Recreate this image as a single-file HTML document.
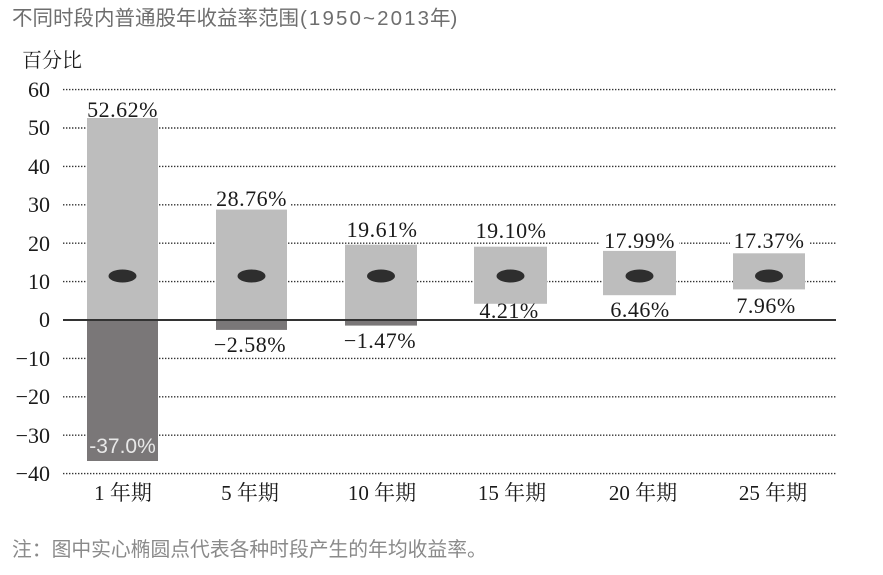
<!DOCTYPE html>
<html>
<head>
<meta charset="utf-8">
<style>
html,body{margin:0;padding:0;background:#fff;}
svg{display:block;}
.serif{font-family:"Liberation Serif","Noto Serif CJK SC","Noto Serif CJK JP","IPAMincho",serif;}
.sans{font-family:"Liberation Sans","Noto Sans CJK SC",sans-serif;}
</style>
</head>
<body>
<svg width="883" height="575" viewBox="0 0 883 575" xmlns="http://www.w3.org/2000/svg">
<rect width="883" height="575" fill="#fff"/>

<!-- Title -->
<g class="sans" fill="#6e6e6e" font-size="20.5">
<text x="12" y="25">不同时段内普通股年收益率范围</text>
<text x="300" y="25" textLength="129" lengthAdjust="spacing">(1950~2013</text>
<text x="430" y="25">年)</text>
</g>

<!-- Y axis title -->
<text class="serif" x="22" y="67" font-size="20" fill="#1a1a1a">百分比</text>

<!-- Gridlines -->
<g stroke="#333" stroke-width="1.4" stroke-dasharray="1.4 1.6" fill="none">
<line x1="63" y1="89.6" x2="836" y2="89.6"/>
<line x1="63" y1="128" x2="836" y2="128"/>
<line x1="63" y1="166.4" x2="836" y2="166.4"/>
<line x1="63" y1="204.8" x2="836" y2="204.8"/>
<line x1="63" y1="243.2" x2="836" y2="243.2"/>
<line x1="63" y1="281.6" x2="836" y2="281.6"/>
<line x1="63" y1="358.4" x2="836" y2="358.4"/>
<line x1="63" y1="396.8" x2="836" y2="396.8"/>
<line x1="63" y1="435.2" x2="836" y2="435.2"/>
<line x1="63" y1="473.6" x2="836" y2="473.6"/>
</g>

<!-- Y tick labels -->
<g class="serif" font-size="22" fill="#1a1a1a" text-anchor="end">
<text x="50" y="97">60</text>
<text x="50" y="135">50</text>
<text x="50" y="174">40</text>
<text x="50" y="212">30</text>
<text x="50" y="251">20</text>
<text x="50" y="289">10</text>
<text x="50" y="327">0</text>
<text x="50" y="366">−10</text>
<text x="50" y="404">−20</text>
<text x="50" y="443">−30</text>
<text x="50" y="481">−40</text>
</g>

<!-- Bars positive part -->
<g fill="#bdbdbd">
<rect x="87" y="118" width="71" height="202"/>
<rect x="216" y="209.6" width="71" height="110.4"/>
<rect x="345" y="244.7" width="72" height="75.3"/>
<rect x="474" y="246.7" width="73" height="57.1"/>
<rect x="603" y="250.9" width="73" height="44.3"/>
<rect x="733" y="253.3" width="72" height="36.1"/>
</g>
<!-- Bars negative part -->
<g fill="#7a7778">
<rect x="87" y="320" width="71" height="141"/>
<rect x="216" y="320" width="71" height="9.9"/>
<rect x="345" y="320" width="72" height="5.6"/>
</g>

<!-- Zero line -->
<line x1="63" y1="320" x2="836" y2="320" stroke="#333" stroke-width="2"/>

<!-- Mean ellipses -->
<g fill="#2e2e2e">
<ellipse cx="122.5" cy="276" rx="14" ry="6.5"/>
<ellipse cx="251.5" cy="276" rx="14" ry="6.5"/>
<ellipse cx="381" cy="276" rx="14" ry="6.5"/>
<ellipse cx="510.5" cy="276" rx="14" ry="6.5"/>
<ellipse cx="639.5" cy="276" rx="14" ry="6.5"/>
<ellipse cx="769" cy="276" rx="14" ry="6.5"/>
</g>

<!-- White backgrounds behind labels sitting on gridlines -->
<g fill="#fff">
<rect x="213" y="192" width="78" height="16"/>
<rect x="600" y="234" width="79" height="16"/>
<rect x="730" y="234" width="79" height="16"/>
</g>

<!-- Value labels -->
<g class="serif" font-size="22" fill="#1a1a1a" text-anchor="middle" letter-spacing="0.5">
<text x="122.5" y="117">52.62%</text>
<text x="251.5" y="206">28.76%</text>
<text x="382" y="237">19.61%</text>
<text x="511" y="238">19.10%</text>
<text x="639.5" y="248">17.99%</text>
<text x="769" y="248">17.37%</text>
<text x="509" y="318">4.21%</text>
<text x="640" y="317">6.46%</text>
<text x="766" y="313">7.96%</text>
<text x="250" y="352">−2.58%</text>
<text x="380" y="348">−1.47%</text>
</g>
<text class="sans" x="122.5" y="453" font-size="21" fill="#e8e8e8" text-anchor="middle">-37.0%</text>

<!-- X labels -->
<g class="serif" font-size="21" fill="#1a1a1a" text-anchor="middle">
<text x="123" y="500">1 年期</text>
<text x="250" y="500">5 年期</text>
<text x="382" y="500">10 年期</text>
<text x="512" y="500">15 年期</text>
<text x="643" y="500">20 年期</text>
<text x="773" y="500">25 年期</text>
</g>

<!-- Footnote -->
<text class="sans" x="12" y="556" font-size="19.8" fill="#8a8a8a">注：图中实心椭圆点代表各种时段产生的年均收益率。</text>
</svg>
</body>
</html>
